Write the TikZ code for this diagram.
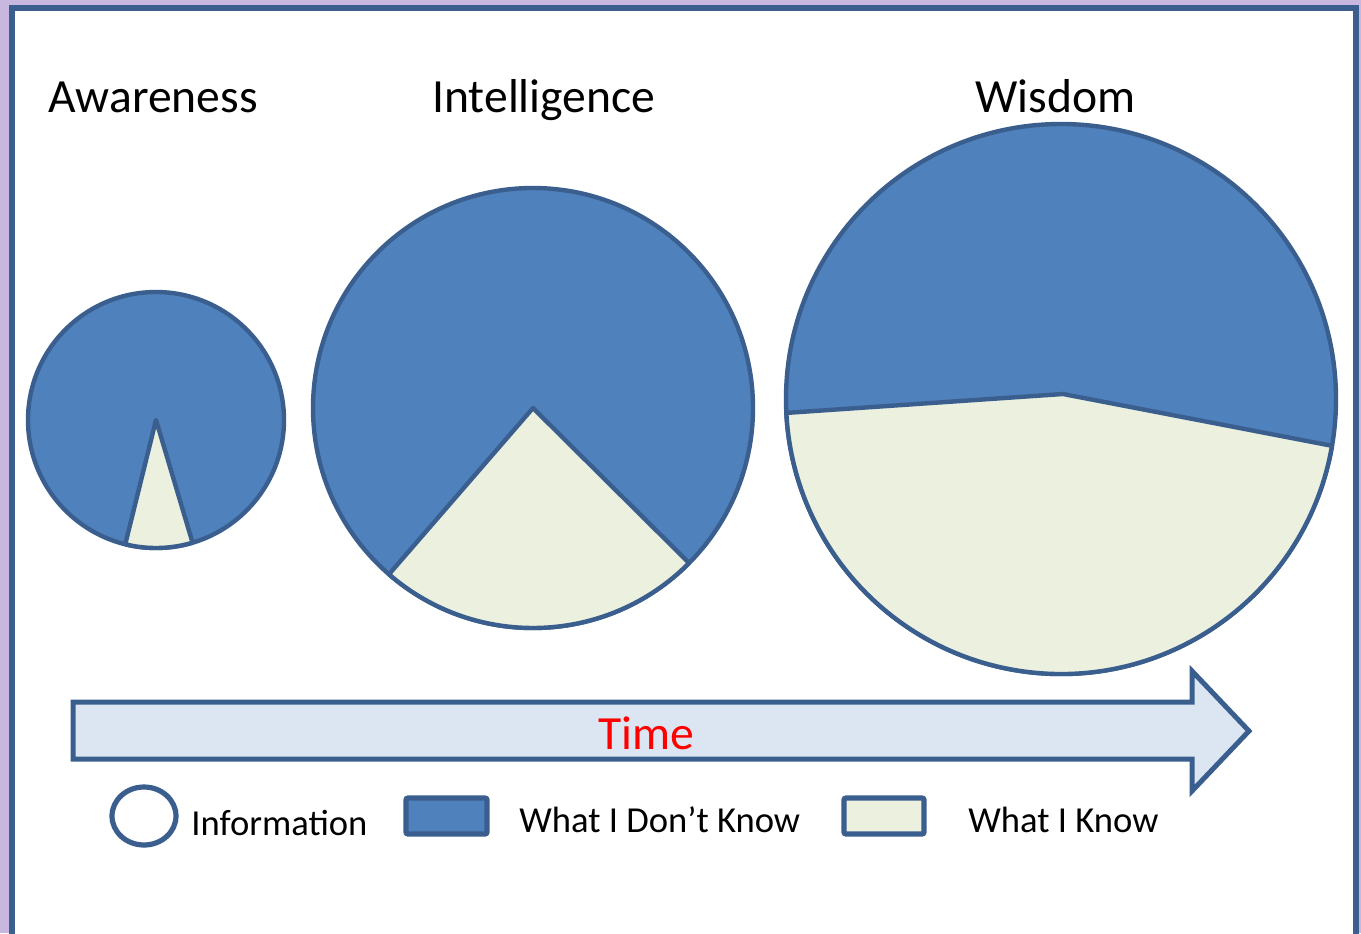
\documentclass[tikz,border=0pt]{standalone}
\usepackage{fontspec}
\setmainfont{Carlito}
\definecolor{frameBg}{HTML}{C8B8E0}
\definecolor{infoEdge}{HTML}{3A5F8E}
\definecolor{dontKnow}{HTML}{4F81BD}
\definecolor{know}{HTML}{EBF0DF}
\definecolor{timeFill}{HTML}{DCE6F2}
\tikzset{
  pie/.style={draw=infoEdge, line width=2.2pt, line join=round},
  title/.style={font=\fontsize{23.8}{28}\selectfont, anchor=base west, inner sep=0pt},
  legend/.style={font=\fontsize{18.3}{22}\selectfont, anchor=base west, inner sep=0pt},
  key/.style={draw=infoEdge, line width=2.6pt},
}
\begin{document}
\begin{tikzpicture}[x=0.5pt, y=-0.5pt]
		\useasboundingbox (0,0) rectangle (1361,933);
		\clip (0,0) rectangle (1361,933);
		\fill[frameBg] (0,0) rectangle (1361,933);
		\draw[infoEdge, line width=3pt, fill=white] (12,8) rectangle (1355.5,960);
		% titles
		\node[title] (aware) at (48,112) {Awareness};
		\node[title] (intel) at (432,112) {Intelligence};
		\node[title] (wisdom) at (975,112) {Wisdom};
		% pies
		\draw[pie, fill=dontKnow] (156,420) circle[radius=128];
		\draw[pie, fill=know] (156,420) -- ++(73.4:128) arc[start angle=73.4, end angle=103.9, radius=128] -- cycle;
		\draw[pie, fill=dontKnow] (533,408) circle[radius=220];
		\draw[pie, fill=know] (533,408) -- ++(44.8:220) arc[start angle=44.8, end angle=130.9, radius=220] -- cycle;
		\draw[pie, fill=dontKnow] (1061,399) circle[radius=275];
		\draw[pie, fill=know] (1063,394) -- ([shift={(1061,399)}]9.8:275) arc[start angle=9.8, end angle=177.1, radius=275] -- cycle;
		% time arrow
		\draw[infoEdge, line width=2.5pt, fill=timeFill] (73,702) -- (1192,702) -- (1192,671) -- (1249,731) -- (1192,791) -- (1192,759) -- (73,759) -- cycle;
		\node[font=\fontsize{23.8}{28}\selectfont, text=red] (time) at (646,733) {Time};
		% legend
		\draw[key] (144,816) ellipse[x radius=32, y radius=29];
		\node[legend] (info) at (191,835) {Information};
		\draw[key, fill=dontKnow, rounded corners=1pt] (406,798) rectangle (487,834);
		\node[legend] (unknown) at (519,832) {What I Don’t Know};
		\draw[key, fill=know, rounded corners=1pt] (844,798) rectangle (924,834);
		\node[legend] (known) at (968,832) {What I Know};
\end{tikzpicture}
\end{document}
